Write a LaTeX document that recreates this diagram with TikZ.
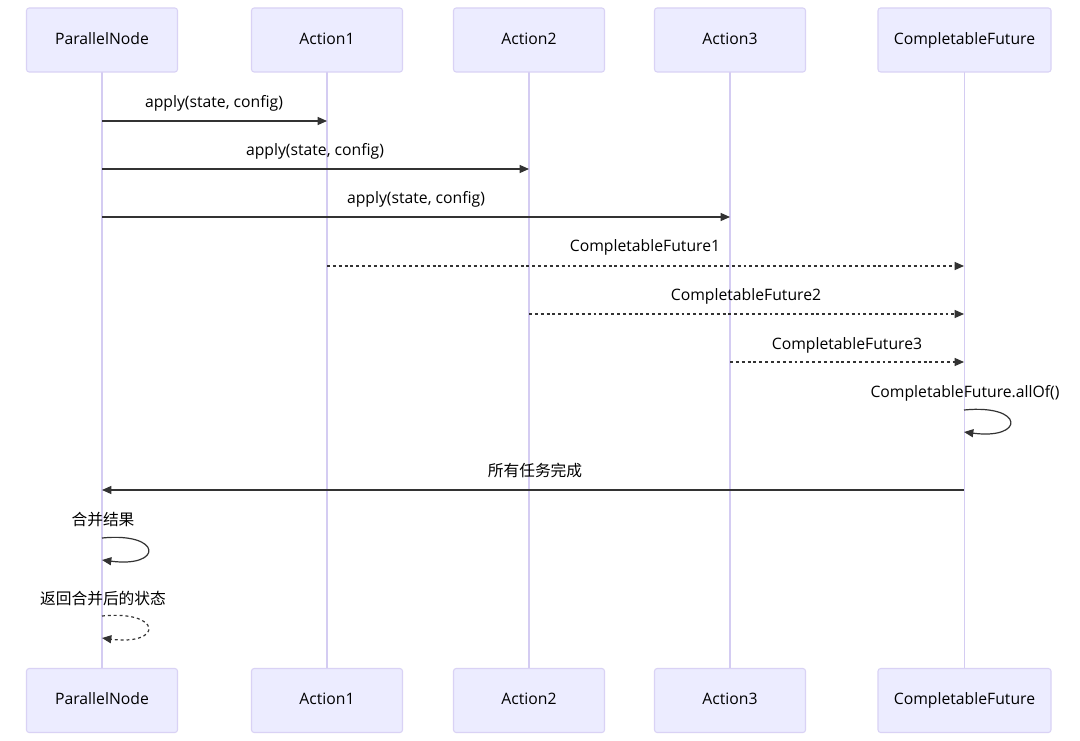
\documentclass[tikz,border=0pt]{standalone}
\usepackage{fontspec}
\setmainfont{Open Sans}
\newfontfamily\cjk{Noto Sans CJK SC}
\usetikzlibrary{arrows.meta}
\definecolor{boxfill}{HTML}{ECECFF}
\definecolor{boxline}{HTML}{D9D2F5}
\definecolor{life}{HTML}{D4CCF2}
\definecolor{msg}{HTML}{333333}
\begin{document}
\begin{tikzpicture}[x=0.75pt,y=-0.75pt,
  actor/.style={draw=boxline,fill=boxfill,rounded corners=2pt,minimum height=48pt,font=\fontsize{11.8pt}{13pt}\selectfont,text=black,line width=0.8pt,text height=9pt,text depth=2.5pt},
  lifeline/.style={draw=life,line width=1.4pt},
  msgline/.style={draw=msg,line width=0.9pt,-{Triangle[length=7pt,width=6pt]}},
  retline/.style={msgline,dash pattern=on 2.2pt off 2.2pt},
  lbl/.style={font=\fontsize{11.8pt}{13pt}\selectfont,text=black,inner sep=0pt}]
\useasboundingbox (0,0) rectangle (1080,741);
\fill[white] (0,0) rectangle (1080,741);
\def\names{p/102/151/ParallelNode,a/327/151/Action1,b/529/151/Action2,c/730/151/Action3,f/964.5/173/CompletableFuture}
\foreach \n/\x/\w/\t in \names {
  \coordinate (\n top) at (\x,72);
  \coordinate (\n bot) at (\x,668);
  \draw[lifeline] (\n top) -- (\n bot);
  \node[actor,minimum width=\w*0.75pt] (\n T) at (\x,40) {\t};
  \node[actor,minimum width=\w*0.75pt] (\n B) at (\x,700.5) {\t};
}
% messages
\coordinate (p1) at (102,121); \coordinate (a1) at (327,121);
\coordinate (p2) at (102,169); \coordinate (b2) at (529,169);
\coordinate (p3) at (102,217); \coordinate (c3) at (730,217);
\coordinate (a4) at (327,266); \coordinate (f4) at (964,266);
\coordinate (b5) at (529,314); \coordinate (f5) at (964,314);
\coordinate (c6) at (730,362); \coordinate (f6) at (964,362);
\coordinate (f8) at (964,490); \coordinate (p8) at (102,490);
\draw[msgline] (p1) -- (a1); \node[lbl] at (214,103) {apply(state, config)};
\draw[msgline] (p2) -- (b2); \node[lbl] at (315,151) {apply(state, config)};
\draw[msgline] (p3) -- (c3); \node[lbl] at (416,199) {apply(state, config)};
\draw[retline] (a4) -- (f4); \node[lbl] at (645,247) {CompletableFuture1};
\draw[retline] (b5) -- (f5); \node[lbl] at (746,296) {CompletableFuture2};
\draw[retline] (c6) -- (f6); \node[lbl] at (847,345) {CompletableFuture3};
% self loop future
\coordinate (f7a) at (964,410); \coordinate (f7b) at (964,432);
\draw[msgline] (f7a) .. controls (1025,404) and (1025,440) .. (f7b);
\node[lbl] at (965,393) {CompletableFuture.allOf()};
\draw[msgline] (f8) -- (p8); \node[lbl] at (535,471) {\cjk 所有任务完成};
% self loops parallel
\coordinate (p9a) at (102,538); \coordinate (p9b) at (102,560);
\draw[msgline] (p9a) .. controls (163,532) and (163,568) .. (p9b);
\node[lbl] at (103,520) {\cjk 合并结果};
\coordinate (p10a) at (102,616); \coordinate (p10b) at (102,638);
\draw[retline] (p10a) .. controls (163,610) and (163,646) .. (p10b);
\node[lbl] at (103,599) {\cjk 返回合并后的状态};
\end{tikzpicture}
\end{document}
